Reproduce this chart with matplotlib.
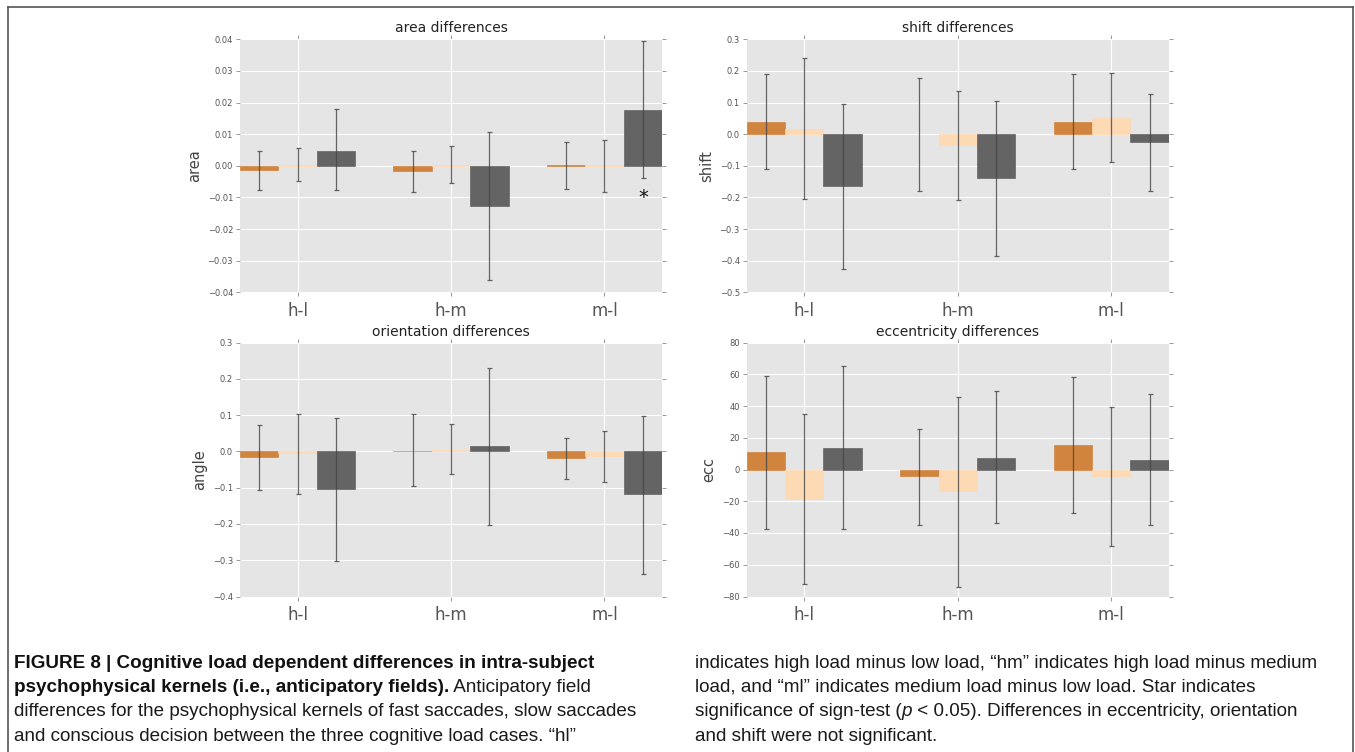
import matplotlib
matplotlib.use('Agg')
import matplotlib.pyplot as plt
import numpy as np
from matplotlib import font_manager
from matplotlib.lines import Line2D

# ---------------- data ----------------
groups = ['h-l', 'h-m', 'm-l']
series_names = ['fast saccades', 'slow saccades', 'conscious decision']
series_colors = ['#D0843E', '#FDD9B4', '#646464']

# area differences (rows: series, cols: groups)
area_mean = [[-0.0013, -0.0017, 0.0001],
             [0.0002, 0.0002, 0.0001],
             [0.0048, -0.0126, 0.0177]]
area_low = [[-0.0077, -0.0084, -0.0072],
            [-0.0048, -0.0055, -0.0084],
            [-0.0077, -0.0362, -0.0040]]
area_high = [[0.0046, 0.0048, 0.0074],
             [0.0055, 0.0063, 0.0083],
             [0.0179, 0.0108, 0.0395]]
area_ticks = [-0.04, -0.03, -0.02, -0.01, 0.00, 0.01, 0.02, 0.03, 0.04]

# shift differences
shift_mean = [[0.037, 0.000, 0.039],
              [0.016, -0.035, 0.052],
              [-0.165, -0.139, -0.026]]
shift_low = [[-0.111, -0.179, -0.110],
             [-0.204, -0.208, -0.088],
             [-0.427, -0.384, -0.180]]
shift_high = [[0.189, 0.177, 0.190],
              [0.240, 0.136, 0.195],
              [0.094, 0.104, 0.126]]
shift_ticks = [-0.5, -0.4, -0.3, -0.2, -0.1, 0.0, 0.1, 0.2, 0.3]

# orientation differences
angle_mean = [[-0.015, 0.002, -0.018],
              [-0.005, 0.004, -0.013],
              [-0.103, 0.014, -0.118]]
angle_low = [[-0.107, -0.096, -0.076],
             [-0.117, -0.062, -0.085],
             [-0.302, -0.202, -0.339]]
angle_high = [[0.074, 0.102, 0.037],
              [0.103, 0.076, 0.057],
              [0.093, 0.231, 0.098]]
angle_ticks = [-0.4, -0.3, -0.2, -0.1, 0.0, 0.1, 0.2, 0.3]

# eccentricity differences
ecc_mean = [[10.8, -4.3, 15.3],
            [-18.5, -13.8, -4.0],
            [13.8, 7.5, 5.8]]
ecc_low = [[-37.2, -35.1, -27.3],
           [-72.4, -74.3, -47.9],
           [-37.6, -34.0, -35.1]]
ecc_high = [[58.9, 25.6, 58.1],
            [34.9, 45.8, 39.5],
            [65.4, 49.6, 47.7]]
ecc_ticks = [-80, -60, -40, -20, 0, 20, 40, 60, 80]

# significance star: (series index, group index, y position)
area_star = (2, 2, -0.0100)

caption_left = [
    [("FIGURE 8 | Cognitive load dependent differences in intra-subject", 'bold')],
    [("psychophysical kernels (i.e., anticipatory fields).", 'bold'), (" Anticipatory field", 'normal')],
    [("differences for the psychophysical kernels of fast saccades, slow saccades", 'normal')],
    [("and conscious decision between the three cognitive load cases. \u201chl\u201d", 'normal')],
]
caption_right = [
    [("indicates high load minus low load, \u201chm\u201d indicates high load minus medium", 'normal')],
    [("load, and \u201cml\u201d indicates medium load minus low load. Star indicates", 'normal')],
    [("significance of sign-test (", 'normal'), ("p", 'italic'), (" < 0.05). Differences in eccentricity, orientation", 'normal')],
    [("and shift were not significant.", 'normal')],
]

# ---------------- figure ----------------
W, H = 1355, 752
fig = plt.figure(figsize=(W / 100, H / 100), dpi=100)
fig.patch.set_facecolor('white')


def fmt_tick(v, dec):
    s = f"{v:.{dec}f}" if dec > 0 else f"{int(round(v))}"
    return s.replace('-', '\u2212')


def draw(rect, title, ylabel, means, lows, highs, yticks, dec, star=None):
    ax = fig.add_axes(rect)
    ax.set_facecolor('#E5E5E5')
    x = np.arange(len(groups))
    width = 0.25
    offsets = [-width, 0.0, width]
    for i in range(len(series_names)):
        m = np.array(means[i], float)
        lo = np.array(lows[i], float)
        hi = np.array(highs[i], float)
        lws = [0.5 if v != 0 else 0.0 for v in m]
        ax.bar(x + offsets[i], m, width, color=series_colors[i],
               edgecolor=series_colors[i], linewidth=lws, zorder=2)
        ax.errorbar(x + offsets[i], m, yerr=[m - lo, hi - m], fmt='none',
                    ecolor='#444444', elinewidth=0.9, capsize=1.8,
                    capthick=0.9, alpha=0.8, zorder=3)
    ax.set_xlim(-0.375, len(groups) - 1 + 0.375)
    ax.set_ylim(yticks[0], yticks[-1])
    ax.set_xticks(x)
    ax.set_xticklabels(groups)
    ax.set_yticks(yticks)
    ax.set_yticklabels([fmt_tick(v, dec) for v in yticks])
    ax.grid(True, color='white', linewidth=0.8)
    ax.set_axisbelow(True)
    for sp in ax.spines.values():
        sp.set_visible(False)
    ax.tick_params(direction='out', length=3, width=0.6, color='#888888',
                   top=True, right=True, labelcolor='#555555')
    ax.tick_params(axis='y', labelsize=6, pad=2)
    ax.tick_params(axis='x', labelsize=12, pad=4)
    ax.set_title(title, fontsize=10, color='#222222', pad=5)
    ax.set_ylabel(ylabel, fontsize=10.5, color='#444444', labelpad=4)
    if star is not None:
        si, gi, yv = star
        ax.text(x[gi] + offsets[si], yv, '*', ha='center', va='center',
                fontsize=14, color='#111111')
    return ax


aw, ah_top, ah_bot = 422 / W, 253 / H, 254 / H
lx, rx = 240 / W, 746.7 / W
ty, by = 1 - 292.3 / H, 1 - 596.5 / H

draw([lx, ty, aw, ah_top], 'area differences', 'area',
     area_mean, area_low, area_high, area_ticks, 2, star=area_star)
draw([rx, ty, aw, ah_top], 'shift differences', 'shift',
     shift_mean, shift_low, shift_high, shift_ticks, 1)
draw([lx, by, aw, ah_bot], 'orientation differences', 'angle',
     angle_mean, angle_low, angle_high, angle_ticks, 1)
draw([rx, by, aw, ah_bot], 'eccentricity differences', 'ecc',
     ecc_mean, ecc_low, ecc_high, ecc_ticks, 0)

# ---------------- frame ----------------
fc = '#555555'
fig.add_artist(Line2D([8 / W, 8 / W], [0, 1 - 7 / H], color=fc, lw=1.2,
                      transform=fig.transFigure))
fig.add_artist(Line2D([8 / W, 1353 / W], [1 - 7 / H, 1 - 7 / H], color=fc,
                      lw=1.2, transform=fig.transFigure))
fig.add_artist(Line2D([1353 / W, 1353 / W], [0, 1 - 7 / H], color=fc, lw=1.2,
                      transform=fig.transFigure))

# ---------------- caption ----------------
names = {f.name for f in font_manager.fontManager.ttflist}
cap_family = 'Liberation Sans Narrow' if 'Liberation Sans Narrow' in names else 'Liberation Sans'
renderer = fig.canvas.get_renderer()

probe = fig.text(0, 0, caption_left[2][0][0], family=cap_family, fontsize=10)
pw = probe.get_window_extent(renderer).width
probe.remove()
cap_fs = 10 * 629.0 / pw


def put_lines(x0, lines, baselines):
    for parts, yb in zip(lines, baselines):
        xp = x0
        for txt, style in parts:
            kw = dict(family=cap_family, fontsize=cap_fs, color='#1a1a1a')
            if style == 'bold':
                kw['weight'] = 'bold'
                kw['color'] = '#111111'
            elif style == 'italic':
                kw['style'] = 'italic'
            t = fig.text(xp / W, 1 - yb / H, txt, ha='left', va='baseline', **kw)
            xp += t.get_window_extent(renderer).width


baselines = [668, 692, 716, 741]
put_lines(14, caption_left, baselines)
put_lines(695, caption_right, baselines)

fig.savefig('out.png', dpi=100)
